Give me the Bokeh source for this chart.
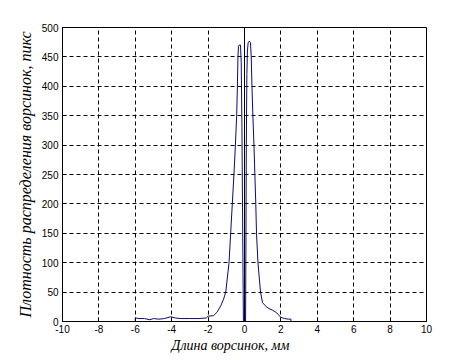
from bokeh.plotting import figure
from bokeh.models import FixedTicker, Span, Title
from bokeh.embed import file_html
from bokeh.resources import INLINE

# ---- data ----
length_mm = [-6.0, -6.0, -5.8, -5.5, -5.2, -5.0, -4.7, -4.4, -4.05, -3.8, -3.5,
             -3.0, -2.5, -2.1, -2.0, -1.7, -1.5, -1.3, -1.15, -1.03, -0.85,
             -0.76, -0.67, -0.58, -0.50, -0.43, -0.39, -0.36, -0.33, -0.30,
             -0.22, -0.18, -0.14, -0.11, -0.08, -0.06,
             0.06, 0.08, 0.10, 0.13, 0.16, 0.20, 0.27, 0.33, 0.37, 0.41, 0.46,
             0.52, 0.57, 0.62, 0.66, 0.74, 0.88, 0.99, 1.2, 1.35, 1.55, 1.72,
             1.85, 2.0, 2.2, 2.4, 2.55, 2.55]
density = [0, 6, 5, 5, 3, 5, 4, 5, 8, 6, 5,
           5, 5, 6, 9, 10, 16, 27, 38, 50, 100,
           150, 200, 250, 300, 350, 400, 450, 468, 470,
           470, 440, 330, 200, 80, 0,
           0, 150, 300, 420, 460, 474, 477, 474, 450, 400, 350,
           300, 250, 200, 150, 100, 50, 32, 25, 22, 19, 16,
           12, 7, 5, 4, 4, 0]
zero_line_x = 0

x_ticks = [-10, -8, -6, -4, -2, 0, 2, 4, 6, 8, 10]
x_tick_labels = ["-10", "-8", "-6", "-4", "-2", "0", "2", "4", "6", "8", "10"]
y_ticks = [0, 50, 100, 150, 200, 250, 300, 350, 400, 450, 500]
y_tick_labels = ["0", "50", "100", "150", "200", "250", "300", "350", "400", "450", "500"]

x_label = "Длина ворсинок, мм"
y_label = "Плотность распределения ворсинок, пикс"

p = figure(width=471, height=360, x_range=(-10, 10), y_range=(0, 500),
           output_backend="svg", toolbar_location=None,
           min_border_left=62, min_border_right=45, min_border_top=27, min_border_bottom=39)
p.background_fill_color = "white"
p.border_fill_color = "white"
p.outline_line_color = "black"
p.outline_line_width = 1

# grid
for g in (p.xgrid, p.ygrid):
    g.grid_line_color = "black"
    g.grid_line_dash = "4 3"
    g.grid_line_width = 1
p.xgrid.ticker = FixedTicker(ticks=x_ticks)
p.ygrid.ticker = FixedTicker(ticks=y_ticks)

# axes
p.xaxis.ticker = FixedTicker(ticks=x_ticks)
p.yaxis.ticker = FixedTicker(ticks=y_ticks)
p.xaxis.major_label_overrides = {t: s for t, s in zip(x_ticks, x_tick_labels)}
p.yaxis.major_label_overrides = {t: s for t, s in zip(y_ticks, y_tick_labels)}
for ax in (p.xaxis, p.yaxis):
    ax.axis_line_color = "black"
    ax.major_tick_line_color = "black"
    ax.major_tick_in = 4
    ax.major_tick_out = 0
    ax.minor_tick_line_color = None
    ax.major_label_text_font = "Liberation Sans"
    ax.major_label_text_font_size = "10px"
    ax.major_label_text_color = "black"
p.xaxis.major_label_standoff = 3
p.yaxis.major_label_standoff = 4

p.yaxis.axis_label = y_label
p.yaxis.axis_label_text_font = "Liberation Serif"
p.yaxis.axis_label_text_font_style = "italic"
p.yaxis.axis_label_text_font_size = "16px"
p.yaxis.axis_label_text_color = "black"
p.yaxis.axis_label_standoff = 5

p.add_layout(Title(text=x_label, align="left", offset=109, standoff=0,
                   text_font="Liberation Serif", text_font_style="italic",
                   text_font_size="14px", text_color="black"), "below")

# zero line and curve
p.add_layout(Span(location=zero_line_x, dimension="height",
                  line_color="black", line_width=1))
p.line(length_mm, density, line_color="#0a0a78", line_width=1)

open("out.html", "w").write(file_html(p, INLINE))
